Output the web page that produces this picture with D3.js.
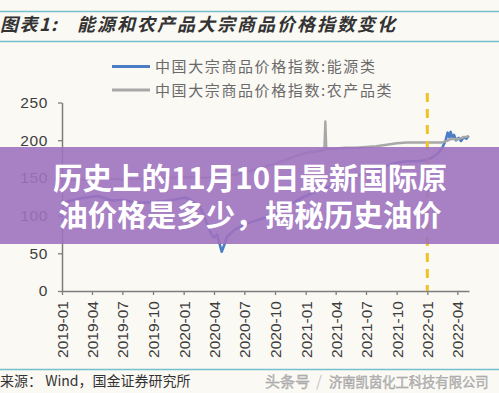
<!DOCTYPE html>
<html>
<head>
<meta charset="utf-8">
<script src="https://cdn.jsdelivr.net/npm/d3@7"></script>
<style>
  body { margin: 0; background: #fbf9f4; }
  svg { display: block; }
</style>
</head>
<body>
<div id="chart"></div>
<script>
// Energy vs agricultural commodity price index

const seriesNames = ["中国大宗商品价格指数:能源类", "中国大宗商品价格指数:农产品类"];

const energyData = [
  ["2019-01-01", 115], ["2019-01-20", 119], ["2019-02-10", 121], ["2019-03-01", 123],
  ["2019-04-01", 125], ["2019-04-20", 126], ["2019-05-10", 123], ["2019-06-01", 120],
  ["2019-07-01", 121], ["2019-08-01", 118], ["2019-09-01", 117], ["2019-10-01", 118],
  ["2019-11-01", 119], ["2019-12-01", 121], ["2020-01-05", 124], ["2020-01-20", 121],
  ["2020-02-05", 116], ["2020-02-20", 111], ["2020-03-05", 96], ["2020-03-15", 84],
  ["2020-03-25", 75], ["2020-04-01", 71], ["2020-04-10", 75], ["2020-04-17", 64],
  ["2020-04-24", 52], ["2020-05-01", 60], ["2020-05-10", 72], ["2020-05-20", 76],
  ["2020-06-01", 81], ["2020-07-01", 88], ["2020-08-01", 93], ["2020-09-01", 97],
  ["2020-10-01", 102], ["2020-11-01", 110], ["2020-12-01", 119], ["2021-01-01", 126],
  ["2021-02-01", 132], ["2021-03-01", 137], ["2021-04-01", 141], ["2021-05-01", 147],
  ["2021-06-01", 152], ["2021-07-01", 157], ["2021-08-01", 161], ["2021-09-01", 166],
  ["2021-10-01", 170], ["2021-11-01", 172], ["2021-12-01", 172], ["2022-01-01", 174],
  ["2022-01-15", 177], ["2022-02-01", 182], ["2022-02-15", 190], ["2022-02-25", 200],
  ["2022-03-03", 210], ["2022-03-08", 204], ["2022-03-12", 211], ["2022-03-17", 202],
  ["2022-03-22", 207], ["2022-03-28", 200], ["2022-04-05", 203], ["2022-04-12", 199],
  ["2022-04-20", 204], ["2022-04-28", 202], ["2022-05-05", 206]
];

const agriData = [
  ["2019-01-01", 147], ["2019-03-01", 148], ["2019-05-01", 149], ["2019-07-01", 148],
  ["2019-09-01", 149], ["2019-11-01", 150], ["2020-01-01", 151], ["2020-03-01", 150],
  ["2020-05-01", 152], ["2020-06-01", 154], ["2020-07-01", 157], ["2020-08-01", 161],
  ["2020-09-01", 165], ["2020-10-01", 169], ["2020-11-01", 174], ["2020-12-01", 179],
  ["2021-01-01", 183], ["2021-02-01", 185], ["2021-02-26", 187], ["2021-03-01", 225],
  ["2021-03-04", 188], ["2021-04-01", 189], ["2021-05-01", 190], ["2021-06-01", 190],
  ["2021-07-01", 191], ["2021-08-01", 192], ["2021-09-01", 194], ["2021-10-01", 196],
  ["2021-11-01", 197], ["2022-01-01", 197], ["2022-02-15", 197], ["2022-03-01", 199],
  ["2022-03-15", 202], ["2022-04-01", 201], ["2022-04-20", 204], ["2022-05-05", 205]
];

const xTickLabels = ["2019-01", "2019-04", "2019-07", "2019-10", "2020-01", "2020-04", "2020-07",
  "2020-10", "2021-01", "2021-04", "2021-07", "2021-10", "2022-01", "2022-04"];
const yTicks = [0, 50, 100, 150, 200, 250];
const markerDate = "2022-01-01";

const titleLead = "图表1:";
const titleText = "能源和农产品大宗商品价格指数变化";
const sourceText = "来源： Wind，国金证券研究所";
const watermarkLead = "头条号";
const watermarkText = "济南凯茵化工科技有限公司";
const bannerLines = ["历史上的11月10日最新国际原", "油价格是多少，揭秘历史油价"];

const W = 499, H = 393;
const parse = d3.timeParse("%Y-%m-%d");
const cjk = "'Noto Sans CJK SC', sans-serif";
const latin = "'Liberation Sans', Arial, sans-serif";

const svg = d3.select("#chart").append("svg")
  .attr("width", W).attr("height", H);

svg.append("rect").attr("width", W).attr("height", H).attr("fill", "#fbf9f4");

const x = d3.scaleTime()
  .domain([parse("2019-01-01"), parse("2022-05-06")])
  .range([62, 469]);
const y = d3.scaleLinear().domain([0, 250]).range([291, 102.5]);

// title block
const rule = "#74c0cc";
[11.5, 41.5, 369.5].forEach(yy => {
  svg.append("line").attr("x1", 0).attr("x2", W).attr("y1", yy).attr("y2", yy)
    .attr("stroke", rule).attr("stroke-width", 1.6);
});
svg.append("text").attr("x", 0).attr("y", 31)
  .attr("font-family", cjk).attr("font-size", "18px").attr("font-weight", "700")
  .attr("font-style", "italic").attr("fill", "#333").attr("letter-spacing", "1.5px")
  .text(titleLead);
svg.append("text").attr("x", 77).attr("y", 31)
  .attr("font-family", cjk).attr("font-size", "18px").attr("font-weight", "700")
  .attr("font-style", "italic").attr("fill", "#333").attr("letter-spacing", "2px")
  .text(titleText);

// legend
const colors = ["#4a7dc6", "#a8a8a8"];
seriesNames.forEach((name, i) => {
  const ly = 66.5 + i * 23.5;
  svg.append("line").attr("x1", 112).attr("x2", 150).attr("y1", ly).attr("y2", ly)
    .attr("stroke", colors[i]).attr("stroke-width", 3);
  svg.append("text").attr("x", 155).attr("y", ly + 5.5)
    .attr("font-family", cjk).attr("font-size", "15px").attr("fill", "#6a6a6a")
    .attr("letter-spacing", "1.6px")
    .text(name);
});

// axes
const axisColor = "#7d7d7d";
const yAxis = svg.append("g").attr("transform", "translate(62,0)")
  .call(d3.axisLeft(y).tickValues(yTicks).tickSize(4).tickPadding(10).tickSizeOuter(0));
const xAxis = svg.append("g").attr("transform", "translate(0,291)")
  .call(d3.axisBottom(x)
    .tickValues(xTickLabels.map(s => parse(s + "-01")))
    .tickFormat(d3.timeFormat("%Y-%m"))
    .tickSize(4).tickSizeOuter(0));

[yAxis, xAxis].forEach(g => {
  g.select(".domain").attr("stroke", axisColor).attr("stroke-width", 1.5);
  g.selectAll(".tick line").attr("stroke", axisColor).attr("stroke-width", 1.3);
  g.selectAll("text").attr("font-family", latin).attr("font-size", "15.5px").attr("fill", "#3d3d3d");
});
yAxis.selectAll("text").attr("letter-spacing", "0.6px");
xAxis.selectAll("text")
  .attr("transform", "rotate(-90)")
  .attr("text-anchor", "end")
  .attr("x", -10).attr("y", 0).attr("dy", "0.36em");

// lines
const line = d3.line().x(d => x(parse(d[0]))).y(d => y(d[1]));
svg.append("path").datum(energyData).attr("d", line)
  .attr("fill", "none").attr("stroke", colors[0]).attr("stroke-width", 2.6)
  .attr("stroke-linejoin", "round");
svg.append("path").datum(agriData).attr("d", line)
  .attr("fill", "none").attr("stroke", colors[1]).attr("stroke-width", 2.4)
  .attr("stroke-linejoin", "round");

// marker line
svg.append("line")
  .attr("x1", x(parse(markerDate))).attr("x2", x(parse(markerDate)))
  .attr("y1", 93).attr("y2", 291)
  .attr("stroke", "#f0c22a").attr("stroke-width", 3).attr("stroke-dasharray", "9,7");

// footer
svg.append("text").attr("x", 0).attr("y", 386)
  .attr("font-family", cjk).attr("font-size", "14px").attr("fill", "#333")
  .text(sourceText);
svg.append("text").attr("x", 265).attr("y", 387)
  .attr("font-family", cjk).attr("font-size", "15px").attr("fill", "#c4c4c4")
  .attr("stroke", "#9a9a9a").attr("stroke-width", 0.4)
  .text(watermarkLead);
svg.append("text").attr("x", 316).attr("y", 387)
  .attr("font-family", cjk).attr("font-size", "15px").attr("fill", "#c4c4c4")
  .text("/");
svg.append("text").attr("x", 329).attr("y", 387)
  .attr("font-family", cjk).attr("font-size", "13.3px").attr("fill", "#c4c4c4")
  .attr("stroke", "#9a9a9a").attr("stroke-width", 0.4)
  .text(watermarkText);

// banner overlay (two lines in one text block)
svg.append("rect").attr("x", 0).attr("y", 147).attr("width", W).attr("height", 97)
  .attr("fill", "rgb(159,114,191)").attr("fill-opacity", 0.9);
const banner = svg.append("text")
  .attr("text-anchor", "middle")
  .attr("font-family", cjk).attr("font-size", "29.5px").attr("font-weight", "700")
  .attr("fill", "#fff");
banner.selectAll("tspan")
  .data(bannerLines)
  .join("tspan")
  .attr("x", 250)
  .attr("y", (d, i) => 189 + i * 37)
  .text(d => d);
</script>
</body>
</html>
